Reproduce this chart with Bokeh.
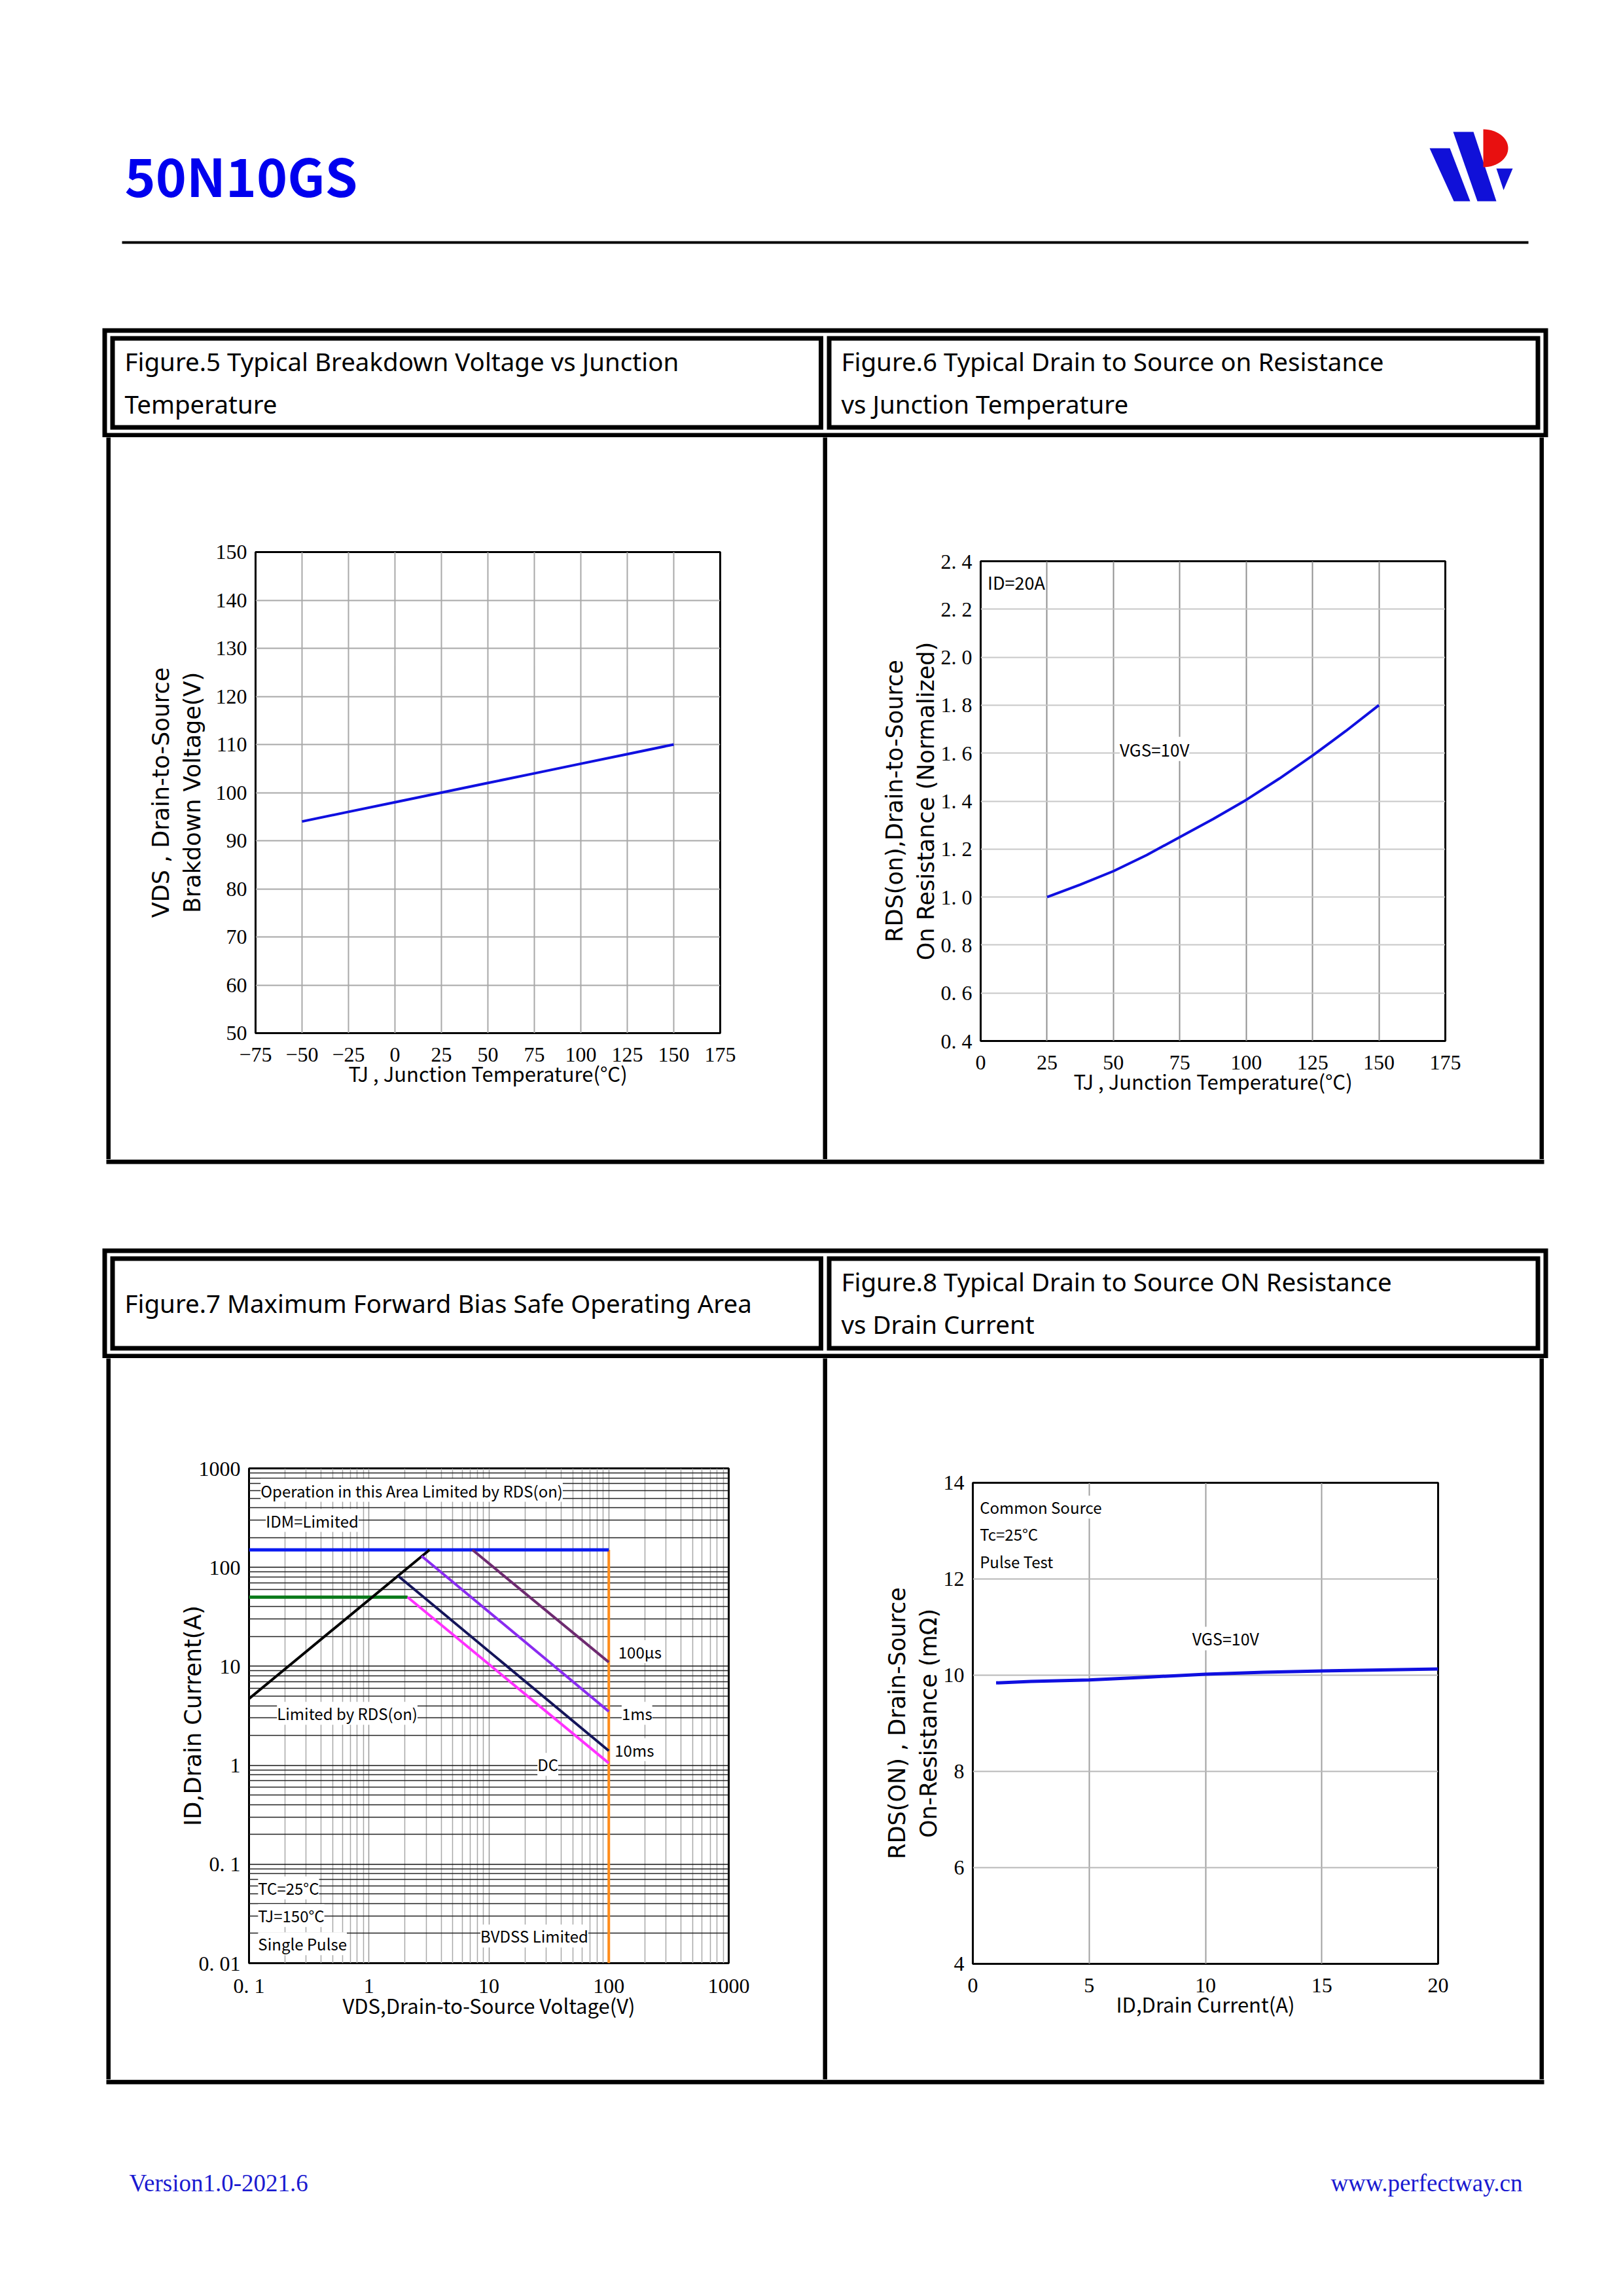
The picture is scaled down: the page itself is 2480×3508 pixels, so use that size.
import numpy as np
from bokeh.plotting import figure
from bokeh.models import (Range1d, Label, Spacer, FixedTicker, CustomJSTickFormatter)
from bokeh.layouts import row, column
from bokeh.core.properties import value
from bokeh.embed import file_html
from bokeh.resources import INLINE

# ----------------------------- data -----------------------------
part_name = "50N10GS"
footer_left = "Version1.0-2021.6"
footer_right = "www.perfectway.cn"

title5 = ["Figure.5 Typical Breakdown Voltage vs Junction", "Temperature"]
title6 = ["Figure.6 Typical Drain to Source on Resistance", "vs Junction Temperature"]
title7 = ["Figure.7 Maximum Forward Bias Safe Operating Area"]
title8 = ["Figure.8 Typical Drain to Source ON Resistance", "vs Drain Current"]

# Figure 5 : BVDSS vs TJ
f5_tj = [-50, -25, 0, 25, 50, 75, 100, 125, 150]
f5_bv = [94, 96, 98, 100, 102, 104, 106, 108, 110]
f5_xticks = [-75, -50, -25, 0, 25, 50, 75, 100, 125, 150, 175]
f5_yticks = [50, 60, 70, 80, 90, 100, 110, 120, 130, 140, 150]

# Figure 6 : normalized RDS(on) vs TJ
f6_tj = [25, 37.5, 50, 62.5, 75, 87.5, 100, 112.5, 125, 137.5, 150]
f6_r = [1.00, 1.052, 1.108, 1.175, 1.25, 1.325, 1.405, 1.494, 1.59, 1.692, 1.80]
f6_xticks = [0, 25, 50, 75, 100, 125, 150, 175]
f6_yticks = [0.4, 0.6, 0.8, 1.0, 1.2, 1.4, 1.6, 1.8, 2.0, 2.2, 2.4]

# Figure 7 : SOA (log-log)
f7_idm_v, f7_idm_i = [0.1, 100], [150, 150]
f7_pkg_v, f7_pkg_i = [0.1, 2.1], [50, 50]
f7_rds_v, f7_rds_i = [0.1, 3.2], [4.7, 150]
f7_100us_v, f7_100us_i = [7.3, 100], [150, 11.0]
f7_1ms_v, f7_1ms_i = [2.75, 100], [130, 3.5]
f7_10ms_v, f7_10ms_i = [1.75, 100], [82, 1.4]
f7_dc_v, f7_dc_i = [2.1, 100], [50, 1.05]
f7_bv_v, f7_bv_i = [100, 100], [0.01, 150]
f7_major = [0.01, 0.1, 1, 10, 100, 1000]

# Figure 8 : RDS(on) vs ID
f8_id = [1, 2.5, 5, 7.5, 10, 12.5, 15, 17.5, 20]
f8_r = [9.84, 9.87, 9.90, 9.96, 10.02, 10.06, 10.09, 10.11, 10.13]
f8_xticks = [0, 5, 10, 15, 20]
f8_yticks = [4, 6, 8, 10, 12, 14]

# ----------------------------- styles -----------------------------
SANS_N = "Noto Sans CJK SC"
SERIF = "Liberation Serif"
SANS_W = "DejaVu Sans"
TITLE_F = "Noto Sans"
CURVE = "#1010E0"
PAGE_W = 2480


def strip(y0, y1):
    p = figure(width=PAGE_W, height=y1 - y0, x_range=Range1d(0, PAGE_W),
               y_range=Range1d(y1, y0), toolbar_location=None, output_backend="svg",
               min_border=0, x_axis_location=None, y_axis_location=None,
               outline_line_color=None)
    p.xgrid.visible = False
    p.ygrid.visible = False
    return p


def vbar(h):
    p = figure(width=7, height=h, toolbar_location=None, output_backend="svg",
               min_border=0, x_axis_location=None, y_axis_location=None,
               outline_line_color=None, background_fill_color="black",
               border_fill_color="black")
    p.xgrid.visible = False
    p.ygrid.visible = False
    return p


def title_block(p, yo_top, yo_bot, yi_top, yi_bot):
    kw = dict(fill_color=None, line_color="black", line_width=7, line_join="miter")
    p.quad(left=[159.5], right=[2361.5], top=[yo_top], bottom=[yo_bot], **kw)
    p.quad(left=[171.5], right=[1254], top=[yi_top], bottom=[yi_bot], **kw)
    p.quad(left=[1266.5], right=[2349.5], top=[yi_top], bottom=[yi_bot], **kw)


def block_text(p, x, ys, lines):
    p.text(x=[x] * len(lines), y=ys[:len(lines)], text=lines, text_font=value(TITLE_F),
           text_font_size=value("38.5px"), text_color="black", text_baseline="alphabetic",
           text_align="left")


def chart(h, xr, yr, borders, xlabel, ylabel, ylab_standoff, xtype="linear", ytype="linear"):
    l, r, t, b = borders
    p = figure(width=1088, height=h, x_range=xr, y_range=yr, x_axis_type=xtype,
               y_axis_type=ytype, min_border_left=l, min_border_right=r,
               min_border_top=t, min_border_bottom=b, toolbar_location=None,
               output_backend="svg", outline_line_color="black", outline_line_width=3)
    p.xaxis.axis_label = xlabel
    p.yaxis.axis_label = ylabel
    for ax in list(p.xaxis) + list(p.yaxis):
        ax.axis_line_color = None
        ax.major_tick_line_color = None
        ax.minor_tick_line_color = None
        ax.major_tick_out = 0
        ax.major_tick_in = 0
        ax.minor_tick_out = 0
        ax.minor_tick_in = 0
        ax.major_label_text_font = SERIF
        ax.major_label_text_font_size = "32px"
        ax.major_label_text_color = "black"
        ax.axis_label_text_font_style = "normal"
        ax.axis_label_text_color = "black"
    p.xaxis.axis_label_text_font = SANS_N
    p.xaxis.axis_label_text_font_size = "31px"
    p.xaxis.axis_label_standoff = -8
    p.xaxis.major_label_standoff = 22
    p.yaxis.axis_label_text_font = SANS_W
    p.yaxis.axis_label_text_font_size = "35px"
    p.yaxis.axis_label_standoff = ylab_standoff
    p.yaxis.major_label_standoff = 13
    return p


def note(p, x, y, text, size=24):
    p.add_layout(Label(x=x, y=y, text=text, text_font=SANS_N, text_font_size=f"{size}px",
                       text_color="black", text_baseline="alphabetic",
                       y_offset=round(0.49 * size), background_fill_color="white"))


# ----------------------------- header strip -----------------------------
top = strip(0, 668)
top.text(x=[190], y=[304 - 39], text=[part_name], text_font=value(SANS_N),
         text_font_style="bold", text_font_size=value("80px"), text_color="#0000EE",
         text_baseline="alphabetic")
top.quad(left=[186], right=[2335], top=[368], bottom=[372], fill_color="black",
         line_color=None)
# logo
top.patch(x=[2184, 2215, 2246, 2221], y=[226, 226, 307, 307], fill_color="#1010D8",
          line_color=None)
top.patch(x=[2220, 2251, 2286, 2257], y=[201, 201, 307, 307], fill_color="#1010D8",
          line_color=None)
th = np.linspace(-np.pi / 2, np.pi / 2, 30)
top.patch(x=list(2266 + 38 * np.cos(th)), y=list(226 + 29 * np.sin(th)),
          fill_color="#E81010", line_color=None)
top.patch(x=[2286, 2311, 2297], y=[257, 257, 290], fill_color="#1010D8", line_color=None)

title_block(top, 504.5, 664.5, 516.5, 652.5)
block_text(top, 190, [551, 616], title5)
block_text(top, 1285, [551, 616], title6)

# ----------------------------- figure 5 -----------------------------
H1 = 1103
p5 = chart(H1, Range1d(-75, 175), Range1d(50, 150), (221, 157, 175, 193),
           "TJ , Junction Temperature(°C)", "VDS , Drain-to-Source\nBrakdown Voltage(V)", 13)
p5.xaxis.ticker = FixedTicker(ticks=f5_xticks)
p5.yaxis.ticker = FixedTicker(ticks=f5_yticks)
p5.xaxis.formatter = CustomJSTickFormatter(code="return tick < 0 ? '\u2212' + Math.abs(tick) : String(tick);")
p5.grid.grid_line_color = "#a8a8a8"
p5.grid.grid_line_width = 2
p5.line(f5_tj, f5_bv, line_color=CURVE, line_width=4)

# ----------------------------- figure 6 -----------------------------
p6 = chart(H1, Range1d(0, 175), Range1d(0.4, 2.4), (234, 144, 189, 181),
           "TJ , Junction Temperature(°C)", "RDS(on),Drain-to-Source\nOn Resistance (Normalized)", 0)
p6.xaxis.ticker = FixedTicker(ticks=f6_xticks)
p6.yaxis.ticker = FixedTicker(ticks=f6_yticks)
p6.yaxis.formatter = CustomJSTickFormatter(code="return tick.toFixed(1).replace('.', '. ');")
p6.xgrid.grid_line_color = "#909090"
p6.ygrid.grid_line_color = "#c8c8c8"
p6.grid.grid_line_width = 2
p6.line(f6_tj, f6_r, line_color=CURVE, line_width=4, line_join="round")
note(p6, 2.6, 2.278, "ID=20A", 27)
note(p6, 52.4, 1.582, "VGS=10V", 26)

# ----------------------------- middle strip -----------------------------
mid = strip(1771, 2075)
mid.quad(left=[162], right=[2359], top=[1771], bottom=[1778], fill_color="black",
         line_color=None)
title_block(mid, 1910.5, 2071.5, 1922.5, 2059.5)
block_text(mid, 190, [1990], title7)
block_text(mid, 1285, [1957, 2022], title8)

# ----------------------------- figure 7 -----------------------------
H2 = 1102
p7 = chart(H2, Range1d(0.1, 1000), Range1d(0.01, 1000), (211, 144, 168, 178),
           "VDS,Drain-to-Source Voltage(V)", "ID,Drain Current(A)", -14,
           xtype="log", ytype="log")
p7.xaxis.major_label_standoff = 16
p7.xaxis.axis_label_standoff = -14
f7_minor = [m * 10.0 ** e for e in range(-2, 3) for m in range(2, 10)]
p7.xaxis.ticker = FixedTicker(ticks=f7_major[1:], minor_ticks=f7_minor)
p7.yaxis.ticker = FixedTicker(ticks=f7_major, minor_ticks=f7_minor)
log_fmt = CustomJSTickFormatter(code="""
const e = Math.round(Math.log10(tick));
if (e >= 0) { return String(Math.pow(10, e)); }
return '0. ' + '0'.repeat(-e - 1) + '1';
""")
p7.xaxis.formatter = log_fmt
p7.yaxis.formatter = log_fmt
p7.xgrid.grid_line_color = "#9a9a9a"
p7.xgrid.minor_grid_line_color = "#a8a8a8"
p7.xgrid.grid_line_width = 1.5
p7.xgrid.minor_grid_line_width = 1.5
p7.ygrid.grid_line_color = "#111111"
p7.ygrid.minor_grid_line_color = "#222222"
p7.ygrid.grid_line_width = 1.5
p7.ygrid.minor_grid_line_width = 1.3

p7.line(f7_bv_v, f7_bv_i, line_color="#FF8C1A", line_width=4)
p7.line(f7_idm_v, f7_idm_i, line_color="#0A1AF0", line_width=5)
p7.line(f7_pkg_v, f7_pkg_i, line_color="#0A7A1A", line_width=5)
p7.line(f7_rds_v, f7_rds_i, line_color="black", line_width=4)
p7.line(f7_100us_v, f7_100us_i, line_color="#6E2A70", line_width=4)
p7.line(f7_1ms_v, f7_1ms_i, line_color="#8A2BF0", line_width=4)
p7.line(f7_10ms_v, f7_10ms_i, line_color="#14145A", line_width=4)
p7.line(f7_dc_v, f7_dc_i, line_color="#FF30FF", line_width=4)

f7_notes = [("Operation in this Area Limited by RDS(on)", 0.125, 500),
            ("IDM=Limited", 0.138, 248),
            ("Limited by RDS(on)", 0.171, 2.79),
            ("100µs", 120, 11.7),
            ("1ms", 128, 2.79),
            ("10ms", 112, 1.2),
            ("DC", 25.4, 0.85),
            ("TC=25°C", 0.119, 0.048),
            ("TJ=150°C", 0.119, 0.0252),
            ("Single Pulse", 0.119, 0.0131),
            ("BVDSS Limited", 8.5, 0.0157)]
for txt, xv, yv in f7_notes:
    note(p7, xv, yv, txt, 24)

# ----------------------------- figure 8 -----------------------------
p8 = chart(H2, Range1d(0, 20), Range1d(4, 14), (222, 155, 190, 177),
           "ID,Drain Current(A)", "RDS(ON) , Drain-Source\nOn-Resistance (mΩ)", 0)
p8.xaxis.ticker = FixedTicker(ticks=f8_xticks)
p8.yaxis.ticker = FixedTicker(ticks=f8_yticks)
p8.xgrid.grid_line_color = "#a0a0a0"
p8.ygrid.grid_line_color = "#b8b8b8"
p8.grid.grid_line_width = 2
p8.line(f8_id, f8_r, line_color=CURVE, line_width=5)
note(p8, 0.3, 13.33, "Common Source", 24)
note(p8, 0.3, 12.77, "Tc=25°C", 24)
note(p8, 0.3, 12.21, "Pulse Test", 24)
note(p8, 9.43, 10.6, "VGS=10V", 25)

# ----------------------------- bottom strip -----------------------------
bot = strip(3177, 3500)
bot.quad(left=[162], right=[2359], top=[3177], bottom=[3184], fill_color="black",
         line_color=None)
bot.text(x=[197], y=[3335], text=[footer_left], text_font=value(SERIF),
         text_font_size=value("37px"), text_color="#1A1AD0", text_baseline="alphabetic")
bot.text(x=[2326], y=[3335], text=[footer_right], text_font=value(SERIF),
         text_font_size=value("37px"), text_color="#1A1AD0", text_baseline="alphabetic",
         text_align="right")

# ----------------------------- layout -----------------------------
row1 = row(Spacer(width=162, height=H1), vbar(H1), column(p5), vbar(H1), column(p6),
           vbar(H1), Spacer(width=121, height=H1), spacing=0)
row2 = row(Spacer(width=162, height=H2), vbar(H2), column(p7), vbar(H2), column(p8),
           vbar(H2), Spacer(width=121, height=H2), spacing=0)
page = column(top, row1, mid, row2, bot, spacing=0)

open("out.html", "w").write(file_html(page, INLINE))
